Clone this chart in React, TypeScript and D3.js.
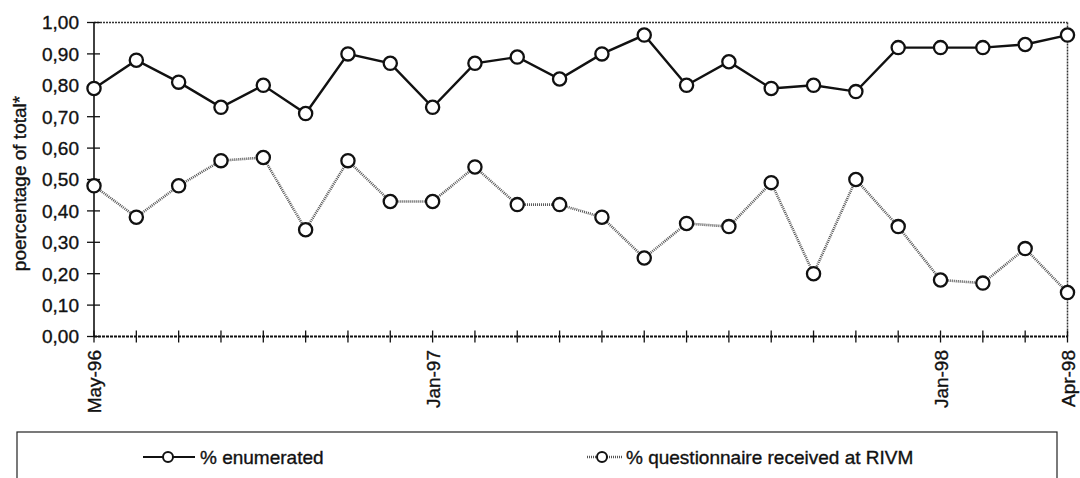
import React from "react";
import * as d3 from "d3";

// Monthly categories, May 1996 – April 1998
const months = [
  "May-96", "Jun-96", "Jul-96", "Aug-96", "Sep-96", "Oct-96", "Nov-96", "Dec-96",
  "Jan-97", "Feb-97", "Mar-97", "Apr-97", "May-97", "Jun-97", "Jul-97", "Aug-97",
  "Sep-97", "Oct-97", "Nov-97", "Dec-97", "Jan-98", "Feb-98", "Mar-98", "Apr-98",
];

// Share enumerated per month
const enumerated = [
  0.79, 0.88, 0.81, 0.73, 0.80, 0.71, 0.90, 0.87, 0.73, 0.87, 0.89, 0.82,
  0.90, 0.96, 0.80, 0.875, 0.79, 0.80, 0.78, 0.92, 0.92, 0.92, 0.93, 0.96,
];

// Share of questionnaires received at RIVM per month
const received = [
  0.48, 0.38, 0.48, 0.56, 0.57, 0.34, 0.56, 0.43, 0.43, 0.54, 0.42, 0.42,
  0.38, 0.25, 0.36, 0.35, 0.49, 0.20, 0.50, 0.35, 0.18, 0.17, 0.28, 0.14,
];

const labelledMonths = ["May-96", "Jan-97", "Jan-98", "Apr-98"];
const yTicks = [0, 0.1, 0.2, 0.3, 0.4, 0.5, 0.6, 0.7, 0.8, 0.9, 1.0];

const W = 1080;
const H = 478;
const left = 94;
const right = 1067.5;
const top = 22.5;
const bottom = 336.5;
const FONT = "'Liberation Sans', Arial, Helvetica, sans-serif";

const fmt = (v: number) => v.toFixed(2).replace(".", ",");

// slightly heavier text, like a printed figure
const textStyle = { fill: "#111", stroke: "#111", strokeWidth: 0.35 };

export default function App() {
  const x = d3.scalePoint<string>().domain(months).range([left, right]);
  const y = d3.scaleLinear().domain([0, 1]).range([bottom, top]);

  const line = d3
    .line<number>()
    .x((_, i) => x(months[i]) as number)
    .y((d) => y(d));

  const grayLine = "#555";

  return (
    <svg
      width={W}
      height={H}
      style={{ position: "absolute", left: 0, top: 0, background: "#fff" }}
      fontFamily={FONT}
    >
      {/* plot frame */}
      <line x1={left} x2={right} y1={top} y2={top} stroke="#333" strokeWidth={1.5} strokeDasharray="2 1" />
      <line x1={right} x2={right} y1={top} y2={bottom} stroke="#333" strokeWidth={1.5} strokeDasharray="2 1" />
      <line x1={left} x2={left} y1={top} y2={bottom} stroke="#111" strokeWidth={1.6} />
      <line x1={left} x2={right} y1={bottom} y2={bottom} stroke="#111" strokeWidth={1.8} strokeDasharray="3 1" />

      {/* y axis ticks and labels */}
      {yTicks.map((t) => (
        <g key={t}>
          <line x1={left - 7} x2={left + 6} y1={y(t)} y2={y(t)} stroke="#111" strokeWidth={1.3} />
          <text x={79} y={y(t)} dy="0.36em" textAnchor="end" fontSize={19} {...textStyle}>
            {fmt(t)}
          </text>
        </g>
      ))}

      {/* y axis title */}
      <text
        transform={`translate(26, ${(top + bottom) / 2 + 4}) rotate(-90)`}
        textAnchor="middle"
        fontSize={19}
        {...textStyle}
      >
        poercentage of total*
      </text>

      {/* x axis ticks */}
      {months.map((m) => (
        <line
          key={m}
          x1={x(m)}
          x2={x(m)}
          y1={bottom - 6}
          y2={bottom + 6}
          stroke="#111"
          strokeWidth={1.3}
        />
      ))}
      {labelledMonths.map((m) => (
        <text
          key={m}
          transform={`translate(${(x(m) as number) + 7}, 350) rotate(-90)`}
          textAnchor="end"
          fontSize={19}
          {...textStyle}
        >
          {m}
        </text>
      ))}

      {/* series: questionnaire received */}
      <path d={line(received) || ""} fill="none" stroke={grayLine} strokeWidth={2.6} strokeDasharray="1 1" />
      {received.map((v, i) => (
        <circle key={`r${i}`} cx={x(months[i])} cy={y(v)} r={6.6} fill="#fff" stroke="#111" strokeWidth={2.3} />
      ))}

      {/* series: enumerated */}
      <path d={line(enumerated) || ""} fill="none" stroke="#111" strokeWidth={2.4} />
      {enumerated.map((v, i) => (
        <circle key={`e${i}`} cx={x(months[i])} cy={y(v)} r={6.6} fill="#fff" stroke="#111" strokeWidth={2.3} />
      ))}

      {/* legend */}
      <rect x={17} y={432} width={1040} height={70} fill="none" stroke="#222" strokeWidth={1.2} />
      <line x1={143} x2={195} y1={457} y2={457} stroke="#111" strokeWidth={2.2} />
      <circle cx={168} cy={457} r={5} fill="#fff" stroke="#111" strokeWidth={2} />
      <text x={200} y={463.5} fontSize={19} {...textStyle}>% enumerated</text>

      <line x1={587} x2={622} y1={457} y2={457} stroke={grayLine} strokeWidth={2.4} strokeDasharray="1 1" />
      <circle cx={602} cy={457} r={5} fill="#fff" stroke="#111" strokeWidth={2} />
      <text x={626} y={463.5} fontSize={19} {...textStyle}>% questionnaire received at RIVM</text>
    </svg>
  );
}
